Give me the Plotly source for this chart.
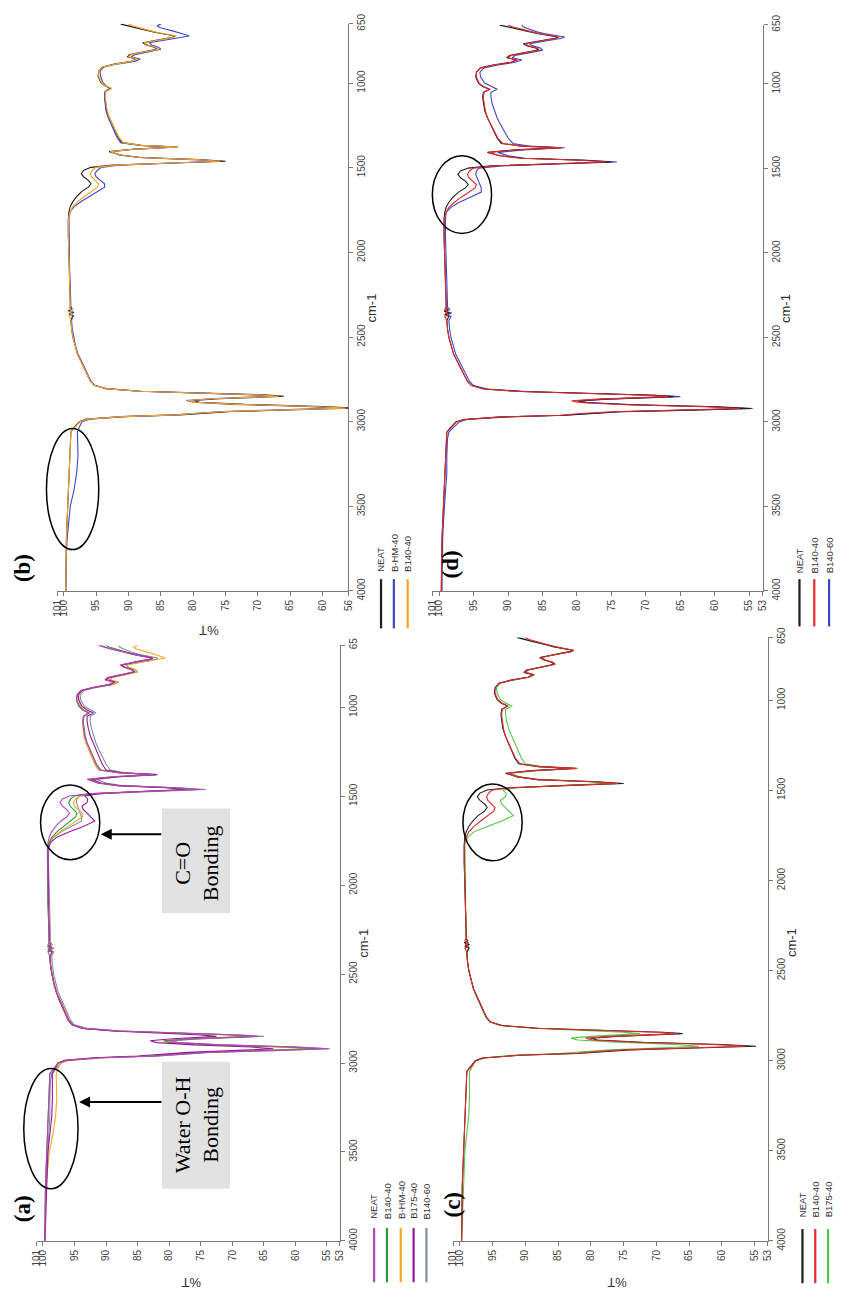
import plotly.graph_objects as go

W, H = 841, 1307

# ---------------- data ----------------
wavenumber = [
    4000, 3900, 3800, 3700, 3600, 3500, 3400, 3300, 3200, 3100,
    3060, 3040, 3020, 3000, 2985, 2970, 2960, 2950, 2940, 2930,
    2920, 2910, 2898, 2885, 2875, 2865, 2858, 2850, 2842, 2832,
    2820, 2805, 2785, 2760, 2730, 2700, 2680, 2640, 2600, 2550,
    2500, 2450, 2400, 2375, 2365, 2355, 2345, 2335, 2320, 2300,
    2200, 2100, 2000, 1900, 1800,
    1760, 1730, 1700, 1670, 1640, 1615, 1595, 1575, 1555, 1535,
    1515, 1498, 1485, 1472, 1462, 1452, 1440, 1425, 1405, 1390,
    1378, 1368, 1352, 1320, 1280, 1240, 1200, 1160, 1120, 1080,
    1050, 1032, 1015, 995, 960, 930, 905, 888, 872, 858,
    845, 832, 815, 800, 788, 775, 762, 750, 740, 730,
    722, 712, 702, 692, 682, 672, 662, 652,
]

t_neat = [
    99.7, 99.7, 99.6, 99.6, 99.5, 99.4, 99.3, 99.2, 99.1, 99.0,
    98.9, 98.5, 98.0, 97.6, 96.5, 91.0, 82.0, 78.5, 74.0, 64.0,
    54.8, 60.0, 72.0, 79.0, 80.0, 76.0, 70.0, 66.0, 69.0, 78.0,
    88.0, 93.5, 95.3, 95.9, 96.3, 96.6, 96.9, 97.4, 97.9, 98.3,
    98.6, 98.8, 98.9, 98.6, 99.2, 98.5, 99.3, 98.8, 99.0, 99.0,
    99.1, 99.2, 99.2, 99.3, 99.3,
    99.2, 99.0, 98.6, 98.0, 97.2, 96.2, 95.8, 96.2, 96.9, 97.3,
    96.9, 95.8, 92.5, 83.0, 75.0, 79.0, 88.0, 91.2, 93.0, 89.0,
    82.5, 88.0, 91.0, 91.6, 92.1, 92.6, 93.0, 93.4, 93.6, 93.7,
    93.6, 92.7, 93.7, 94.3, 94.7, 94.6, 94.0, 92.2, 89.6, 88.8,
    90.2, 89.8, 87.6, 85.6, 86.0, 87.2, 87.8, 86.2, 85.0, 83.2,
    82.8, 84.5, 85.8, 86.8, 88.0, 89.0, 90.2, 91.2,
]

t_b140_40 = [
    99.7, 99.7, 99.6, 99.6, 99.5, 99.4, 99.3, 99.2, 99.1, 99.0,
    98.9, 98.4, 97.9, 97.5, 96.3, 91.0, 82.5, 79.5, 75.0, 65.5,
    56.4, 61.5, 73.0, 79.8, 80.8, 77.0, 71.0, 66.8, 69.8, 78.5,
    88.3, 93.6, 95.3, 95.9, 96.3, 96.6, 96.9, 97.4, 97.9, 98.3,
    98.6, 98.8, 98.9, 99.2, 98.6, 99.1, 98.7, 99.2, 99.0, 99.0,
    99.1, 99.2, 99.2, 99.3, 99.3,
    99.0, 98.6, 97.8, 96.8, 95.7, 94.8, 94.6, 95.1, 95.7, 95.9,
    95.6, 95.0, 92.0, 83.5, 75.8, 79.5, 88.2, 91.2, 92.8, 88.8,
    82.2, 88.0, 90.8, 91.5, 92.0, 92.5, 93.0, 93.3, 93.5, 93.6,
    93.5, 92.6, 93.6, 94.2, 94.6, 94.6, 94.0, 92.0, 89.5, 88.6,
    90.0, 89.6, 87.4, 85.4, 85.8, 87.0, 87.6, 86.0, 84.8, 83.0,
    82.6, 84.2, 85.5, 86.5, 87.6, 88.5, 89.4, 90.0,
]

t_bhm_40 = [
    99.7, 99.7, 99.6, 99.5, 99.3, 99.0, 98.4, 98.0, 97.8, 97.9,
    97.9, 97.7, 97.5, 97.2, 96.0, 90.5, 83.0, 79.5, 75.5, 66.5,
    58.0, 62.5, 74.0, 80.0, 81.0, 77.5, 72.0, 68.0, 70.5, 79.0,
    88.5, 93.5, 95.2, 95.8, 96.2, 96.5, 96.8, 97.3, 97.8, 98.2,
    98.5, 98.7, 98.8, 98.5, 99.1, 98.4, 99.2, 98.7, 98.9, 98.9,
    99.0, 99.1, 99.1, 99.2, 99.2,
    99.0, 98.4, 97.3, 96.0, 94.6, 93.7, 93.7, 94.3, 95.0, 95.2,
    94.8, 94.2, 91.5, 83.0, 76.5, 80.0, 88.5, 91.5, 92.6, 88.8,
    82.5, 88.2, 91.2, 91.8, 92.3, 92.8, 93.2, 93.5, 93.6, 93.7,
    93.6, 92.9, 93.5, 94.0, 94.3, 94.4, 93.8, 91.8, 89.0, 88.2,
    89.6, 89.0, 86.8, 85.0, 85.4, 86.4, 86.8, 85.0, 83.5, 81.5,
    80.6, 81.4, 82.2, 83.2, 84.2, 85.2, 85.6, 85.0,
]

t_b175_40 = [
    99.7, 99.6, 99.5, 99.4, 99.3, 99.2, 98.9, 98.6, 98.5, 98.5,
    98.5, 98.2, 97.9, 97.6, 96.6, 92.0, 85.0, 81.0, 77.0, 70.0,
    63.5, 67.0, 76.0, 82.0, 83.0, 80.0, 76.0, 72.5, 75.0, 82.0,
    89.0, 93.8, 95.4, 96.0, 96.4, 96.7, 97.0, 97.5, 97.9, 98.3,
    98.6, 98.8, 98.9, 98.5, 99.2, 98.6, 99.1, 98.8, 99.0, 99.0,
    99.1, 99.1, 99.1, 99.2, 99.2,
    98.8, 97.8, 95.8, 93.6, 91.8, 92.4, 93.0, 93.6, 93.8, 93.0,
    92.9, 93.4, 91.0, 84.0, 77.5, 80.5, 88.0, 90.8, 92.2, 88.0,
    82.0, 87.5, 90.0, 90.6, 91.1, 91.6, 92.0, 92.5, 92.8, 93.0,
    93.0, 92.0, 93.0, 93.8, 94.3, 94.4, 93.8, 92.0, 89.4, 88.6,
    90.0, 89.5, 87.2, 85.5, 85.9, 87.0, 87.5, 86.0, 84.8, 83.0,
    82.6, 84.2, 85.6, 86.8, 88.0, 89.2, 90.2, 90.8,
]

t_b140_60 = [
    99.6, 99.6, 99.5, 99.5, 99.4, 99.2, 99.0, 98.9, 98.9, 98.8,
    98.6, 98.1, 97.6, 97.1, 96.0, 90.0, 81.5, 78.0, 73.5, 63.5,
    54.5, 59.5, 71.5, 78.5, 79.5, 75.5, 69.5, 65.0, 68.5, 77.5,
    87.5, 93.0, 95.0, 95.6, 96.0, 96.3, 96.6, 97.1, 97.6, 98.0,
    98.3, 98.5, 98.6, 98.3, 99.0, 98.2, 99.1, 98.5, 98.8, 98.8,
    98.9, 99.0, 99.0, 99.1, 99.1,
    99.0, 98.3, 97.1, 95.5, 93.9, 93.9, 94.1, 94.3, 94.5, 94.7,
    94.6, 94.2, 91.0, 82.0, 74.2, 78.5, 87.5, 90.0, 91.5, 87.8,
    81.8, 87.0, 89.3, 90.0, 90.6, 91.1, 91.6, 92.0, 92.3, 92.5,
    92.5, 91.6, 92.5, 93.4, 94.0, 94.1, 93.5, 91.5, 89.0, 88.0,
    89.4, 89.0, 86.8, 85.0, 85.3, 86.4, 86.9, 85.3, 84.0, 82.2,
    81.8, 83.4, 84.8, 85.8, 86.6, 87.2, 87.8, 88.0,
]

for arr in (t_neat, t_b140_40, t_bhm_40, t_b175_40, t_b140_60):
    assert len(arr) == len(wavenumber)

wn_ticks = [4000, 3500, 3000, 2500, 2000, 1500, 1000, 650]
t_ticks_53 = [101, 100, 95, 90, 85, 80, 75, 70, 65, 60, 55, 53]
t_ticks_56 = [101, 100, 95, 90, 85, 80, 75, 70, 65, 60, 56]

samples = {
    "NEAT": t_neat,
    "B140-40": t_b140_40,
    "B-HM-40": t_bhm_40,
    "B175-40": t_b175_40,
    "B140-60": t_b140_60,
}

# ---------------- styling ----------------
SANS = "Liberation Sans, Arial, sans-serif"
SERIF = "Liberation Serif, Times New Roman, serif"
AX = "#7a7a7a"

MAGENTA = "#bb44bb"
PURPLE = "#95189a"
GREEN_A = "#2f9a35"
ORANGE = "#f7a526"
GREY = "#8090a2"
BLACK = "#1e1e1e"
BLUE = "#3d47c4"
RED = "#e8282c"
GREEN_C = "#52c84a"


def fx(p):
    return p / W


def fy(p):
    return 1 - p / H


panels = [
    dict(  # (a) bottom-left
        idx=1, xpix=(31, 338), ypix=(645, 1250), trange=[101, 53], tticks=t_ticks_53,
        wlabels=["4000", "3500", "3000", "2500", "2000", "1500", "1000", "65"],
        series=[("B140-60", GREY), ("B-HM-40", ORANGE), ("B140-40", GREEN_A),
                ("B175-40", PURPLE), ("NEAT", MAGENTA)],
        legend=[("NEAT", MAGENTA, 373), ("B140-40", GREEN_A, 386), ("B-HM-40", ORANGE, 400),
                ("B175-40", PURPLE, 413), ("B140-60", GREY, 426)],
        leg_y=(1237, 1292, 1230),
        label=("(a)", 17, 1217), cm=(362, 948), pct=(188, 1293),
    ),
    dict(  # (b) top-left
        idx=2, xpix=(52, 347), ypix=(14, 590), trange=[101, 56], tticks=t_ticks_56,
        wlabels=["4000", "3500", "3000", "2500", "2000", "1500", "1000", "650"],
        series=[("NEAT", BLACK), ("B-HM-40", BLUE), ("B140-40", ORANGE)],
        legend=[("NEAT", BLACK, 380), ("B-HM-40", BLUE, 393), ("B140-40", ORANGE, 407)],
        leg_y=(578, 628, 573),
        label=("(b)", 17, 567), cm=(370, 303), pct=(205, 630),
    ),
    dict(  # (c) bottom-right
        idx=3, xpix=(453, 772), ypix=(637, 1250), trange=[101, 53], tticks=t_ticks_53,
        wlabels=["4000", "3500", "3000", "2500", "2000", "1500", "1000", "650"],
        series=[("B175-40", GREEN_C), ("NEAT", BLACK), ("B140-40", RED)],
        legend=[("NEAT", BLACK, 807), ("B140-40", RED, 820), ("B175-40", GREEN_C, 833)],
        leg_y=(1238, 1293, 1228),
        label=("(c)", 452, 1213), cm=(796, 947), pct=(619, 1293),
    ),
    dict(  # (d) top-right
        idx=4, xpix=(432, 767), ypix=(15, 590), trange=[101, 53], tticks=t_ticks_53,
        wlabels=["4000", "3500", "3000", "2500", "2000", "1500", "1000", "650"],
        series=[("B140-60", BLUE), ("NEAT", BLACK), ("B140-40", RED)],
        legend=[("NEAT", BLACK, 804), ("B140-40", RED, 819), ("B140-60", BLUE, 834)],
        leg_y=(578, 626, 574),
        label=("(d)", 450, 563), cm=(790, 303), pct=None,
    ),
]

fig = go.Figure()
layout = dict(
    width=W, height=H, margin=dict(l=0, r=0, t=0, b=0),
    paper_bgcolor="white", plot_bgcolor="white", showlegend=False,
)
annotations = []
shapes = []

for p in panels:
    i = p["idx"]
    sfx = "" if i == 1 else str(i)
    xa, ya = "x" + sfx, "y" + sfx
    layout["xaxis" + sfx] = dict(
        domain=[fx(p["xpix"][0]), fx(p["xpix"][1])], range=p["trange"], anchor=ya,
        side="bottom", showline=True, linecolor=AX, linewidth=1, ticks="outside",
        ticklen=4, tickwidth=1, tickcolor=AX, tickvals=p["tticks"],
        ticktext=[str(v) for v in p["tticks"]], tickangle=-90,
        tickfont=dict(size=10, color="#444", family=SANS),
        showgrid=False, zeroline=False, fixedrange=True,
    )
    layout["yaxis" + sfx] = dict(
        domain=[fy(p["ypix"][1]), fy(p["ypix"][0])], range=[4000, 650], anchor=xa,
        side="right", showline=True, linecolor=AX, linewidth=1, ticks="outside",
        ticklen=4, tickwidth=1, tickcolor=AX, tickvals=wn_ticks, ticktext=p["wlabels"],
        tickangle=-90, tickfont=dict(size=10, color="#444", family=SANS),
        showgrid=False, zeroline=False, fixedrange=True,
    )
    for name, col in p["series"]:
        fig.add_trace(go.Scatter(
            x=samples[name], y=wavenumber, mode="lines", name=name,
            line=dict(color=col, width=1.1), xaxis=xa, yaxis=ya, showlegend=False,
            hoverinfo="skip",
        ))
    # custom rotated legend
    y_top, y_bot, y_txt = p["leg_y"]
    for name, col, lx in p["legend"]:
        shapes.append(dict(type="line", xref="paper", yref="paper",
                           x0=fx(lx), x1=fx(lx), y0=fy(y_bot), y1=fy(y_top),
                           line=dict(color=col, width=2.2)))
        annotations.append(dict(xref="paper", yref="paper", x=fx(lx), y=fy(y_txt),
                                xanchor="center", yanchor="bottom", text=name,
                                textangle=-90, showarrow=False,
                                font=dict(size=9.5, color="#333", family=SANS)))
    lab, lx, ly = p["label"]
    annotations.append(dict(xref="paper", yref="paper", x=fx(lx), y=fy(ly),
                            xanchor="center", yanchor="middle", text="<b>%s</b>" % lab,
                            textangle=-90, showarrow=False,
                            font=dict(size=23, color="black", family=SERIF)))
    cx, cy = p["cm"]
    annotations.append(dict(xref="paper", yref="paper", x=fx(cx), y=fy(cy),
                            xanchor="center", yanchor="middle", text="cm-1",
                            textangle=-90, showarrow=False,
                            font=dict(size=13, color="#333", family=SANS)))
    if p["pct"]:
        px_, py_ = p["pct"]
        annotations.append(dict(xref="paper", yref="paper", x=fx(px_), y=fy(py_),
                                xanchor="center", yanchor="middle", text="%T",
                                textangle=180, showarrow=False,
                                font=dict(size=13, color="#333", family=SANS)))

# highlight ellipses
for (x0, x1, y0, y1) in [(18, 73, 1075, 1197), (35, 95, 787, 863), (41, 94, 425, 548),
                         (432, 492, 148, 227), (463, 523, 786, 864)]:
    shapes.append(dict(type="circle", xref="paper", yref="paper",
                       x0=fx(x0), x1=fx(x1), y0=fy(y1), y1=fy(y0),
                       line=dict(color="black", width=1.5)))

# grey annotation boxes
for (x0, x1, y0, y1) in [(158, 227, 1068, 1197), (158, 227, 811, 917)]:
    shapes.append(dict(type="rect", xref="paper", yref="paper",
                       x0=fx(x0), x1=fx(x1), y0=fy(y1), y1=fy(y0),
                       fillcolor="#e2e2e2", line=dict(width=0), layer="below"))

annotations.append(dict(xref="paper", yref="paper", x=fx(193), y=fy(1132),
                        xanchor="center", yanchor="middle", text="Water O-H<br>Bonding",
                        textangle=-90, showarrow=False, align="center",
                        font=dict(size=22, color="black", family=SERIF)))
annotations.append(dict(xref="paper", yref="paper", x=fx(193), y=fy(866),
                        xanchor="center", yanchor="middle", text="C=O<br>Bonding",
                        textangle=-90, showarrow=False, align="center",
                        font=dict(size=22, color="black", family=SERIF)))

# arrows
for (hx, hy, tail) in [(74, 1109, 158), (96, 837, 158)]:
    annotations.append(dict(xref="paper", yref="paper", x=fx(hx), y=fy(hy),
                            ax=tail - hx, ay=0, text="", showarrow=True,
                            arrowhead=2, arrowsize=1.1, arrowwidth=2,
                            arrowcolor="black", standoff=0, startstandoff=0))

layout["annotations"] = annotations
layout["shapes"] = shapes
fig.update_layout(**layout)
fig.write_html("out.html")
